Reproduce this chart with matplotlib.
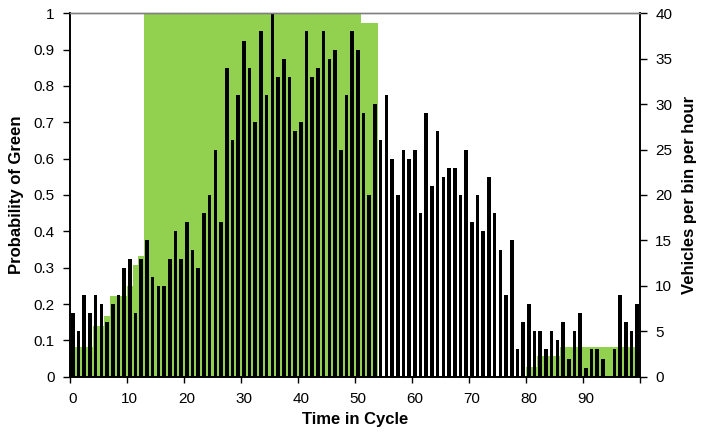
import numpy as np
import matplotlib.pyplot as plt

plt.rcParams['font.family'] = ['Liberation Sans', 'DejaVu Sans']
plt.rcParams['font.size'] = 11

# time bins 0..99 within the cycle
cycle_bins = np.arange(100)

# vehicles counted per bin (per hour)
vehicles = [7, 5, 9, 7, 9, 8, 6, 8, 9, 12,
            13, 7, 13, 15, 11, 10, 10, 13, 16, 13,
            17, 14, 12, 18, 20, 25, 17, 34, 26, 31,
            37, 34, 28, 38, 31, 40, 33, 35, 33, 27,
            28, 38, 33, 34, 38, 35, 36, 25, 31, 38,
            36, 29, 20, 30, 26, 31, 24, 20, 25, 24,
            25, 18, 29, 21, 27, 22, 23, 23, 20, 25,
            17, 20, 16, 22, 18, 14, 9, 15, 3, 6,
            8, 5, 5, 3, 5, 4, 6, 2, 5, 7,
            1, 3, 3, 2, 0, 3, 9, 6, 5, 8]

# probability that the signal shows green in each bin
p_green = ([0.083] * 4 + [0.139] * 2 + [0.167] + [0.222] * 3 + [0.25, 0.306, 0.333]
           + [1.0] * 38 + [0.972] * 3 + [0.0] * 26
           + [0.028] * 2 + [0.056] * 4 + [0.083] * 14)

x_labels = [str(v) for v in range(0, 100, 10)]

fig = plt.figure(figsize=(7.02, 4.32), dpi=100)
ax = fig.add_axes([70 / 702, 1 - 376.7 / 432, 570 / 702, 363.4 / 432])
ax2 = ax.twinx()

ax.bar(cycle_bins, p_green, width=1.0, color='#92D050', linewidth=0, zorder=1)
ax2.bar(cycle_bins, vehicles, width=0.62, color='black', linewidth=0, zorder=2)

ax.set_xlim(-0.5, 99.5)
ax.set_ylim(0, 1)
ax2.set_ylim(0, 40)

# category style axis: labels on bins, tick marks on bin edges
ax.set_xticks(range(0, 100, 10))
ax.set_xticklabels(x_labels)
ax.tick_params(axis='x', which='major', length=0, pad=11)
ax.set_xticks(np.arange(-0.5, 100, 10), minor=True)
ax.tick_params(axis='x', which='minor', length=4, width=1, direction='out')

ax.set_yticks(np.arange(0, 1.01, 0.1))
ax.set_yticklabels(['0'] + ['%.1f' % v for v in np.arange(0.1, 0.95, 0.1)] + ['1'])
ax.tick_params(axis='y', length=5, width=1, direction='out', pad=6)
ax2.set_yticks(range(0, 41, 5))
ax2.tick_params(axis='y', length=5, width=1, direction='out', pad=6)

for a in (ax, ax2):
    for side in ('left', 'right', 'bottom'):
        a.spines[side].set_linewidth(1.2)
        a.spines[side].set_color('black')
    a.spines['top'].set_color('#808080')
    a.spines['top'].set_linewidth(1)

ax.set_xlabel('Time in Cycle', fontsize=12, fontweight='bold', labelpad=4)
ax.set_ylabel('Probability of Green', fontsize=12, fontweight='bold', labelpad=7)
ax2.set_ylabel('Vehicles per bin per hour', fontsize=12, fontweight='bold', labelpad=7)

fig.savefig('out.png', dpi=100)
